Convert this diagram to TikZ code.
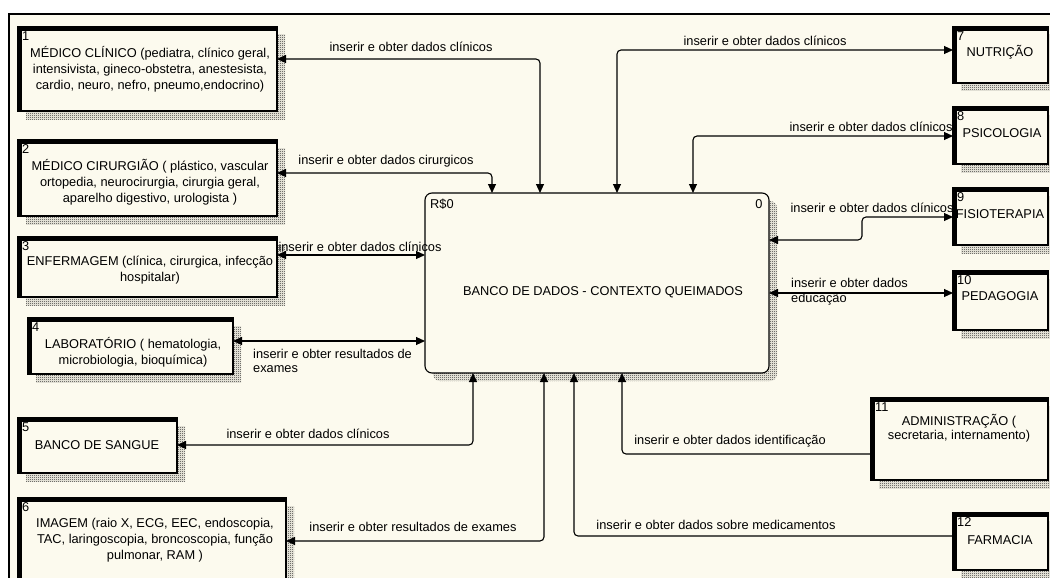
\documentclass[tikz,border=0pt]{standalone}
\usepackage{fontspec}
\setmainfont{Liberation Sans}
\usetikzlibrary{arrows.meta,patterns,calc}

\definecolor{cream}{RGB}{252,250,238}
\colorlet{shade}{black!85}

% fine checker used for the drop shadows
\pgfdeclarepatternformonly{checks}{\pgfpointorigin}{\pgfpoint{2pt}{2pt}}{\pgfpoint{2pt}{2pt}}{%
  \pgfpathrectangle{\pgfpointorigin}{\pgfpoint{1pt}{1pt}}%
  \pgfpathrectangle{\pgfpoint{1pt}{1pt}}{\pgfpoint{1pt}{1pt}}%
  \pgfusepath{fill}}

\newcommand\dfdfont{\fontsize{12.8}{16}\selectfont}

\tikzset{
  dfd/.style={rectangle, draw=black, line width=1.1pt, fill=cream,
    inner sep=0pt, outer sep=0pt, anchor=north west},
  num/.style={anchor=north west, inner sep=0pt, font=\dfdfont},
  txt/.style={align=center, inner sep=0pt, font=\dfdfont},
  lbl/.style={inner sep=0pt, font=\dfdfont},
  conn/.style={line width=1.1pt, rounded corners=4pt},
  >={Triangle[length=9pt,width=8pt]}
}

% external entity: name, left, top, width, height, number
\newcommand\dfdbox[6]{%
  \node[dfd, minimum width=#4pt, minimum height=#5pt] (#1) at (#2,#3) {};
  \fill (#1.north west) rectangle ($(#1.south west)+(4,0)$);
  \fill (#1.north west) rectangle ($(#1.north east)+(0,4)$);
  \node[num] (#1n) at ($(#1.north west)+(4,4)$) {#6};
}

\begin{document}
\begin{tikzpicture}[x=1pt, y=-1pt]
\useasboundingbox (0,0) rectangle (1050,578);
\clip (0,0) rectangle (1050,578);

% paper and frame
\fill[white] (0,0) rectangle (1050,578);
\fill[cream] (9,14) rectangle (1050,578);
\draw[line width=1.2pt] (9,578) -- (9,14) -- (1050,14);

% drop shadows
\foreach \xa/\ya/\xb/\yb in {18/27/277/111, 18/140/277/216, 18/237/277/297,
    28/318/233/374, 18/418/177/473, 18/498/286/600, 953/27/1048/83,
    953/107/1048/164, 953/188/1048/245, 953/271/1048/330, 871/398/1048/480,
    953/513/1048/570}
  \fill[pattern=checks, pattern color=shade] (\xa+8,\ya+8) rectangle (\xb+8,\yb+8);
\fill[pattern=checks, pattern color=shade, rounded corners=7pt] (433,201) rectangle (777,381);

% central process
\node[dfd, rounded corners=7pt, minimum width=344pt, minimum height=180pt] (db) at (425,193) {};
\node[lbl, anchor=west] (dbid) at (430,204) {R\$0};
\node[lbl] (dbnum) at (759,204) {0};
\node[txt] (dbtxt) at (603,292) {BANCO DE DADOS - CONTEXTO QUEIMADOS};

% flow labels
\node[lbl] (l1) at (411,47) {inserir e obter dados clínicos};
\node[lbl] (l2) at (386,161) {inserir e obter dados cirurgicos};
\node[lbl] (l3) at (360,247) {inserir e obter dados clínicos};
\node[lbl, anchor=west, align=left, font=\fontsize{12.8}{14}\selectfont] (l4) at (253,361) {inserir e obter resultados de\\exames};
\node[lbl] (l5) at (308,434) {inserir e obter dados clínicos};
\node[lbl] (l6) at (413,527) {inserir e obter resultados de exames};
\node[lbl] (l7) at (765,41) {inserir e obter dados clínicos};
\node[lbl] (l8) at (871,127) {inserir e obter dados clínicos};
\node[lbl] (l9) at (872,208) {inserir e obter dados clínicos};
\node[lbl, anchor=west, align=left, font=\fontsize{12.8}{15}\selectfont] (l10) at (791,291.5) {inserir e obter dados\\educação};
\node[lbl] (l11) at (730,441) {inserir e obter dados identificação};
\node[lbl] (l12) at (716,525) {inserir e obter dados sobre medicamentos};

% external entities
\dfdbox{b1}{18}{27}{259}{84}{1}
\dfdbox{b2}{18}{140}{259}{76}{2}
\dfdbox{b3}{18}{237}{259}{60}{3}
\dfdbox{b4}{28}{318}{205}{56}{4}
\dfdbox{b5}{18}{418}{159}{55}{5}
\dfdbox{b6}{18}{498}{268}{90}{6}
\dfdbox{b7}{953}{27}{95}{56}{7}
\dfdbox{b8}{953}{107}{95}{57}{8}
\dfdbox{b9}{953}{188}{95}{57}{9}
\dfdbox{b10}{953}{271}{95}{59}{10}
\dfdbox{b11}{871}{398}{177}{82}{11}
\dfdbox{b12}{953}{513}{95}{57}{12}

\node[txt] (t1) at (150,69) {MÉDICO CLÍNICO (pediatra, clínico geral,\\intensivista, gineco-obstetra, anestesista,\\cardio, neuro, nefro, pneumo,endocrino)};
\node[txt] (t2) at (150,182) {MÉDICO CIRURGIÃO ( plástico, vascular\\ortopedia, neurocirurgia, cirurgia geral,\\aparelho digestivo, urologista )};
\node[txt] (t3) at (150,270) {ENFERMAGEM (clínica, cirurgica, infecção\\hospitalar)};
\node[txt] (t4) at (133,352) {LABORATÓRIO ( hematologia,\\microbiologia, bioquímica)};
\node[txt] (t5) at (97,445) {BANCO DE SANGUE};
\node[txt] (t6) at (155,540) {IMAGEM (raio X, ECG, EEC, endoscopia,\\TAC, laringoscopia, broncoscopia, função\\pulmonar, RAM )};
\node[txt] (t7) at (1000,52) {NUTRIÇÃO};
\node[txt] (t8) at (1002,133) {PSICOLOGIA};
\node[txt] (t9) at (1000,214) {FISIOTERAPIA};
\node[txt] (t10) at (1000,296) {PEDAGOGIA};
\node[txt, font=\fontsize{12.8}{14}\selectfont] (t11) at (959,428) {ADMINISTRAÇÃO (\\secretaria, internamento)};
\node[txt] (t12) at (1000,540) {FARMACIA};

% data flows
\draw[conn,<->] (b1.east |- 0,59) -| (db.north -| 540,0);
\draw[conn,<->] (b2.east |- 0,173) -| (db.north -| 492,0);
\draw[conn,<->] (b3.east |- 0,255) -- (db.west |- 0,255);
\draw[conn,<->] (b4.east |- 0,341) -- (db.west |- 0,341);
\draw[conn,<->] (b5.east |- 0,445) -| (db.south -| 473,0);
\draw[conn,<->] (b6.east |- 0,541) -| (db.south -| 544,0);
\draw[conn,<->] (b7.west |- 0,50) -| (db.north -| 617,0);
\draw[conn,<->] (b8.west |- 0,136) -| (db.north -| 693,0);
\draw[conn,<->] (b9.west |- 0,217) -- (862,217) -- (862,240) -- (db.east |- 0,240);
\draw[conn,<->] (db.east |- 0,293) -- (b10.west |- 0,293);
\draw[conn,->] (b11.west |- 0,454) -| (db.south -| 622,0);
\draw[conn,->] (b12.west |- 0,536) -| (db.south -| 574,0);
\end{tikzpicture}
\end{document}
